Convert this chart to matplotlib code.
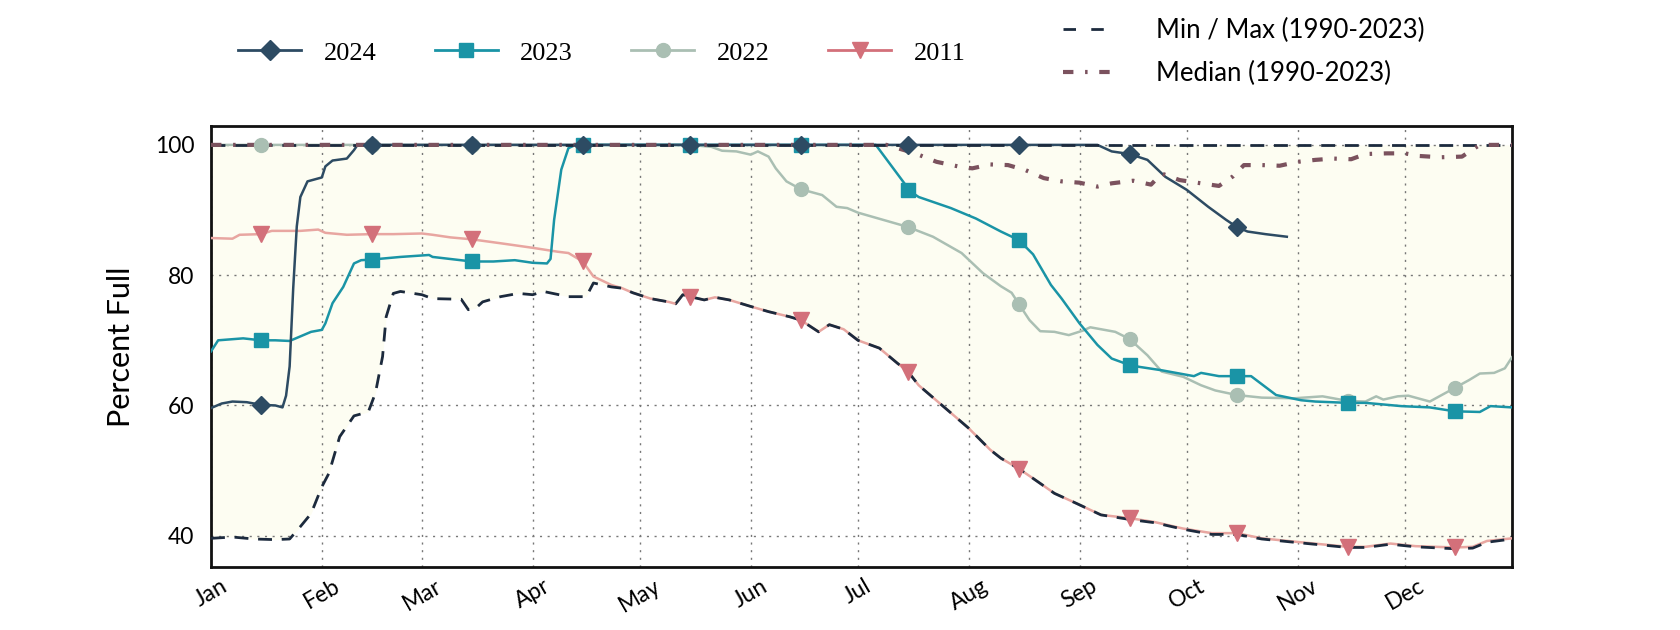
import numpy as np
import matplotlib
matplotlib.use("Agg")
import matplotlib.pyplot as plt
from matplotlib.lines import Line2D

# day of year (0 = Jan 1) and percent full
MONTHS = ["Jan", "Feb", "Mar", "Apr", "May", "Jun", "Jul", "Aug", "Sep", "Oct", "Nov", "Dec"]
MONTH_START = [0, 31, 59, 90, 120, 151, 181, 212, 243, 273, 304, 334]
MID_MONTH = [14, 45, 73, 104, 134, 165, 195, 226, 257, 287, 318, 348]
Y_TICKS = [40, 60, 80, 100]

d2024 = [0, 3, 6, 10, 14, 18, 20, 21, 22, 23, 24, 25, 27, 31, 32, 34, 38, 40, 41,
         45, 73, 104, 134, 165, 195, 226, 248, 252, 257, 262, 267, 273, 279, 284, 287, 290, 295, 301]
v2024 = [59.6, 60.3, 60.6, 60.5, 60.1, 60.0, 59.7, 61.5, 66.0, 78.0, 87.5, 92.0, 94.4, 95.0, 96.7, 97.6, 97.9, 99.2, 100,
         100, 100, 100, 100, 100, 100, 100, 100, 99.0, 98.6, 97.7, 95.1, 93.1, 90.5, 88.5, 87.4, 86.7, 86.3, 85.9]

d2023 = [0, 2, 9, 14, 18, 22, 25, 28, 31, 32, 34, 37, 40, 42, 45, 53, 61, 62, 73, 79, 85, 90, 94, 95, 96, 98, 100, 102,
         104, 134, 165, 186, 194, 195, 198, 207, 214, 221, 226, 230, 235, 238, 243, 248, 252, 257, 260, 266, 275, 277,
         282, 287, 291, 298, 305, 309, 318, 323, 333, 341, 348, 355, 358, 364]
v2023 = [68.3, 70.0, 70.3, 70.0, 70.0, 69.9, 70.6, 71.3, 71.6, 72.6, 75.7, 78.2, 81.8, 82.3, 82.4, 82.8, 83.1, 82.8,
         82.1, 82.1, 82.3, 81.9, 81.8, 82.5, 88.5, 96.2, 99.5, 100,
         100, 100, 100, 100, 94.1, 93.1, 92.0, 90.3, 88.7, 86.7, 85.4, 83.2, 78.5, 76.4, 72.6, 69.3, 67.2, 66.2, 65.9,
         65.4, 64.5, 65.0, 64.5, 64.5, 64.5, 61.6, 60.8, 60.6, 60.4, 60.4, 59.9, 59.7, 59.1, 59.0, 59.9, 59.7]

d2022 = [0, 14, 45, 73, 104, 134, 140, 143, 147, 151, 153, 156, 158, 161, 165, 171, 175, 178, 181, 188, 195, 202,
         210, 216, 221, 224, 226, 229, 232, 236, 240, 244, 246, 253, 257, 262, 266, 272, 277, 281, 287, 294, 303,
         311, 318, 323, 326, 328, 332, 335, 341, 348, 352, 355, 359, 362, 364]
v2022 = [100, 100, 100, 100, 100, 100, 99.7, 99.1, 99.0, 98.5, 99.0, 98.2, 96.4, 94.4, 93.2, 92.3, 90.5, 90.3, 89.6,
         88.5, 87.4, 85.9, 83.4, 80.3, 78.3, 77.3, 75.6, 73.1, 71.4, 71.3, 70.8, 71.5, 72.0, 71.3, 70.2, 67.7, 65.2,
         64.4, 63.1, 62.3, 61.6, 61.2, 61.1, 61.4, 60.7, 60.6, 61.4, 60.9, 61.4, 61.5, 60.6, 62.7, 63.9, 64.9, 65.0,
         65.7, 67.4]

d2011 = [0, 6, 8, 14, 17, 25, 30, 32, 38, 45, 51, 59, 62, 67, 73, 81, 90, 97, 100, 104, 107, 112, 115, 118, 123,
         128, 130, 132, 134, 138, 141, 145, 151, 156, 162, 165, 170, 173, 177, 181, 187, 192, 195, 198, 205, 212,
         218, 221, 226, 230, 236, 242, 249, 257, 264, 272, 280, 287, 294, 303, 318, 323, 330, 337, 348, 353, 357, 364]
v2011 = [85.7, 85.6, 86.2, 86.3, 86.8, 86.8, 87.0, 86.5, 86.2, 86.3, 86.3, 86.4, 86.2, 85.8, 85.5, 84.9, 84.2, 83.6,
         83.4, 82.1, 79.8, 78.5, 78.0, 77.3, 76.4, 75.9, 75.6, 77.0, 76.7, 76.2, 76.6, 76.2, 75.2, 74.4, 73.6, 73.1,
         71.3, 72.4, 71.7, 70.0, 68.8, 66.5, 65.2, 63.1, 59.8, 56.5, 53.2, 51.9, 50.3, 48.8, 46.5, 45.0, 43.2, 42.7,
         42.1, 41.1, 40.4, 40.4, 39.6, 39.1, 38.3, 38.3, 38.8, 38.4, 38.2, 38.3, 39.2, 39.6]

d_min = [0, 6, 12, 18, 22, 25, 28, 31, 33, 36, 40, 44, 46, 48, 49, 51, 53, 59, 62, 70, 72, 74, 76, 81, 86, 90, 93,
         100, 105, 107, 112, 115, 118, 123, 128, 130, 132, 134, 138, 141, 145, 151, 156, 162, 165, 170, 173, 177,
         181, 187, 192, 195, 198, 205, 212, 218, 221, 226, 230, 236, 242, 249, 257, 264, 272, 280, 287, 294, 303,
         318, 323, 330, 337, 348, 353, 357, 364]
v_min = [39.6, 39.8, 39.5, 39.4, 39.5, 41.4, 43.4, 47.5, 49.6, 55.2, 58.4, 59.0, 61.9, 67.5, 73.6, 77.2, 77.5, 77.0,
         76.4, 76.3, 74.7, 74.9, 75.9, 76.7, 77.2, 77.0, 77.5, 76.7, 76.7, 78.8, 78.2, 78.0, 77.3, 76.4, 75.9, 75.6,
         77.0, 76.7, 76.2, 76.6, 76.2, 75.2, 74.4, 73.6, 73.1, 71.3, 72.4, 71.7, 70.0, 68.8, 66.5, 65.2, 63.1, 59.8,
         56.5, 53.2, 51.9, 50.3, 48.8, 46.5, 45.0, 43.2, 42.5, 42.0, 41.0, 40.2, 40.2, 39.5, 39.0, 38.2, 38.2, 38.7,
         38.3, 38.0, 38.1, 39.0, 39.5]

d_max = [0, 364]
v_max = [100, 100]

d_med = [0, 189, 197, 203, 209, 213, 218, 223, 228, 233, 238, 243, 248, 252, 258, 263, 266, 271, 277, 282, 286,
         289, 294, 299, 304, 309, 314, 319, 323, 329, 334, 338, 344, 350, 353, 355, 364]
v_med = [100, 100, 98.7, 97.4, 96.7, 96.4, 97.0, 96.9, 96.1, 94.9, 94.4, 94.2, 93.6, 94.1, 94.5, 93.9, 95.6, 94.6,
         94.1, 93.7, 95.2, 96.9, 96.9, 96.8, 97.4, 97.7, 97.9, 97.8, 98.6, 98.7, 98.7, 98.3, 98.1, 98.2, 99.3, 100, 100]

C2024 = "#2d4b63"
C2023 = "#1a94a6"
C2022 = "#aabfb3"
C2011 = "#d3707a"
C2011_LINE = "#e8a6a1"
CMINMAX = "#1c2a3d"
CMED = "#7b525e"

SERIF = "Liberation Serif"
SANS = "Lato"


def marks(days):
    return [i for i, d in enumerate(days) if d in MID_MONTH]


fig = plt.figure(figsize=(16.8, 6.3), dpi=100)
ax = fig.add_axes([0.1256, 0.1, 0.7744, 0.7])

ax.fill_between(d_min, v_min, 100, color="#fdfdf2", zorder=0.2, lw=0)

series = [
    (d2011, v2011, "v", C2011, C2011_LINE, 11),
    (d2022, v2022, "o", C2022, C2022, 10),
    (d2023, v2023, "s", C2023, C2023, 9.5),
    (d2024, v2024, "D", C2024, C2024, 9.5),
]
for z, (dd, vv, mk, cm, cl, ms) in enumerate(series):
    ax.plot(dd, vv, color=cl, lw=1.8, zorder=3 + z * 0.1)
    ax.plot(dd, vv, ls="none", marker=mk, ms=ms, color=cm, markevery=marks(dd), zorder=6 + z * 0.1)

ax.plot(d_min, v_min, color=CMINMAX, lw=2, ls=(0, (5, 3.5)), zorder=4)
ax.plot(d_max, v_max, color=CMINMAX, lw=2, ls=(0, (5, 3.5)), zorder=4)
ax.plot(d_med, v_med, color=CMED, lw=3, ls=(0, (2.5, 2.8, 0.6, 2.8)), zorder=5)

ax.set_xlim(0, 364)
ax.set_ylim(35.2, 102.9)
ax.grid(True, color="#777777", ls=(0, (1.5, 4)), lw=1, zorder=0.5)
ax.set_axisbelow(True)
ax.tick_params(axis="both", length=0, labelsize=16.5)
ax.tick_params(axis="y", pad=12)
ax.tick_params(axis="x", pad=6)
ax.set_xticks(MONTH_START)
ax.set_xticklabels(MONTHS)
ax.set_yticks(Y_TICKS)
ax.set_yticklabels([str(t) for t in Y_TICKS])
for lab in ax.get_xticklabels():
    lab.set_rotation(30)
    lab.set_ha("center")
    lab.set_family(SANS)
    lab.set_fontsize(16.5)
for lab in ax.get_yticklabels():
    lab.set_family(SANS)
    lab.set_fontsize(16.5)
for s in ax.spines.values():
    s.set_linewidth(2)
    s.set_color("#111111")
ax.set_ylabel("Percent Full", fontsize=22, family=SANS, labelpad=14)

h1 = [
    Line2D([], [], color=C2024, lw=2, marker="D", ms=10),
    Line2D([], [], color=C2023, lw=2, marker="s", ms=10),
    Line2D([], [], color=C2022, lw=2, marker="o", ms=10),
    Line2D([], [], color=C2011, lw=2, marker="v", ms=11),
]
leg1 = fig.legend(h1, ["2024", "2023", "2022", "2011"], loc="center left",
                  bbox_to_anchor=(238 / 1680, 1 - 53 / 630), ncol=4, frameon=False,
                  prop={"family": SERIF, "size": 19}, handlelength=2.4, handletextpad=0.85,
                  columnspacing=2.2, borderpad=0, borderaxespad=0)

h2 = [
    Line2D([], [], color=CMINMAX, lw=2, ls=(0, (4.5, 5.5))),
    Line2D([], [], color=CMED, lw=3, ls=(0, (2.5, 2.8, 0.6, 2.8))),
]
leg2 = fig.legend(h2, ["Min / Max (1990-2023)", "Median (1990-2023)"], loc="center left",
                  bbox_to_anchor=(1063 / 1680, 1 - 52 / 630), ncol=1, frameon=False,
                  prop={"family": SANS, "size": 18.5}, handlelength=2.0, handletextpad=1.6,
                  labelspacing=0.7, borderpad=0, borderaxespad=0)

fig.savefig("out.png", dpi=100)
